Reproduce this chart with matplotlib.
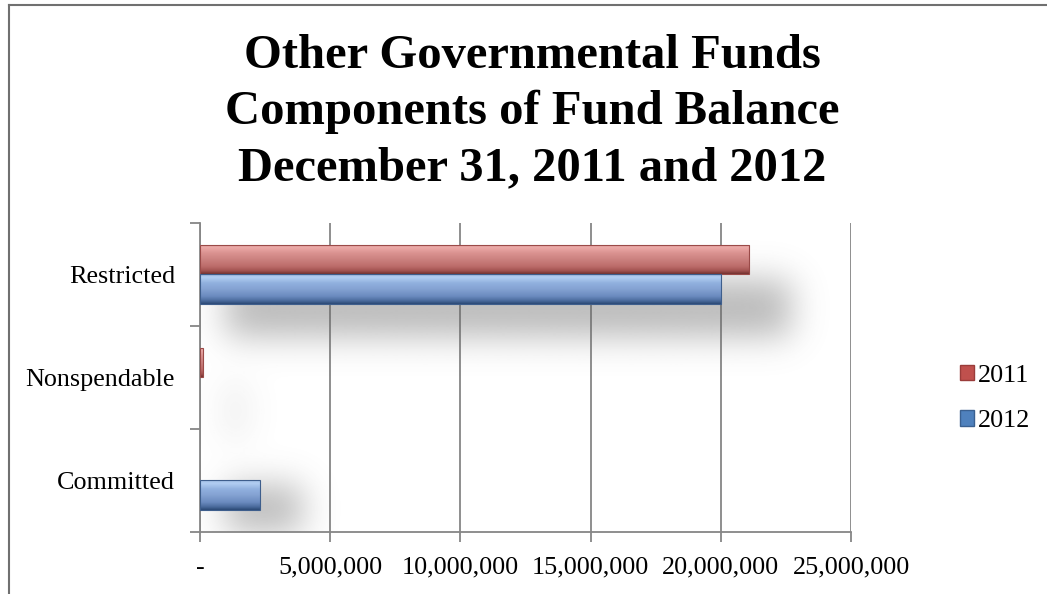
#!/usr/bin/env python3
"""Other governmental funds: components of fund balance, 2011 vs 2012."""

import matplotlib.pyplot as plt
import numpy as np
from matplotlib.colors import LinearSegmentedColormap
from matplotlib.lines import Line2D
from matplotlib.patches import Patch
from matplotlib.ticker import FuncFormatter

CATEGORIES = ["Committed", "Nonspendable", "Restricted"]
FUND_2011 = [0, 100_000, 21_100_000]
FUND_2012 = [2_300_000, 0, 20_000_000]
YEARS = ["2011", "2012"]
X_TICKS = [0, 5_000_000, 10_000_000, 15_000_000, 20_000_000, 25_000_000]
TITLE_LINES = [
    "Other Governmental Funds",
    "Components of Fund Balance",
    "December 31, 2011 and 2012",
]

SERIF = ["Liberation Serif", "DejaVu Serif"]
GRID = "#868686"

# glossy top-to-bottom shading for each series
RED_STOPS = ["#D89896", "#ECAAA8", "#DA9290", "#CC8280", "#BC6C6A", "#A25250", "#743230"]
BLUE_STOPS = ["#9CBAE2", "#B2CEF2", "#90B0DE", "#84A2D2", "#6A8ABE", "#4A6A9C", "#2C4A76"]
STOP_POS = [0.0, 0.1, 0.3, 0.5, 0.75, 0.9, 1.0]


def _gradient_bars(ax, bars, stops, edge):
    cmap = LinearSegmentedColormap.from_list("gloss", list(zip(STOP_POS, stops)))
    grad = np.linspace(0, 1, 64).reshape(-1, 1)
    for patch in bars:
        x, y = patch.get_x(), patch.get_y()
        w, h = patch.get_width(), patch.get_height()
        if w <= 0:
            patch.set_visible(False)
            continue
        patch.set_facecolor("none")
        patch.set_edgecolor(edge)
        patch.set_linewidth(0.8)
        patch.set_zorder(4)
        im = ax.imshow(grad, cmap=cmap, extent=(x, x + w, y, y + h),
                       origin="upper", aspect="auto", zorder=3,
                       interpolation="bilinear")
        im.set_clip_path(patch)


def _blur(img, sigma):
    r = int(3 * sigma)
    k = np.exp(-0.5 * (np.arange(-r, r + 1) / sigma) ** 2)
    k /= k.sum()
    img = np.apply_along_axis(lambda v: np.convolve(v, k, mode="same"), 0, img)
    img = np.apply_along_axis(lambda v: np.convolve(v, k, mode="same"), 1, img)
    return img


def _shadows(ax, centers, tops, xmax):
    nx, ny = 650, 310
    xs = np.linspace(0, xmax, nx)
    ys = np.linspace(2.5, -0.5, ny)
    X, Y = np.meshgrid(xs, ys)
    img = np.zeros((ny, nx))
    for c, v in zip(centers, tops):
        strength = 0.3 + 0.7 * min(1.0, v / 2e6)
        box = (X > 1.0e6) & (X < v + 1.6e6) & (Y < c - 0.05) & (Y > c - 0.6)
        img = np.maximum(img, box * strength)
    img = _blur(img, 17)
    rgba = np.zeros((ny, nx, 4))
    rgba[..., :3] = 0.40
    rgba[..., 3] = np.clip(img, 0, 1) * 0.45
    ax.imshow(rgba, extent=(0, xmax, -0.5, 2.5), origin="upper",
              aspect="auto", zorder=1.5, interpolation="bilinear")


def main():
    fig = plt.figure(figsize=(10.47, 5.94), dpi=100)
    ax = fig.add_axes([200 / 1047, 62.3 / 594, 651 / 1047, 309 / 594])

    y = np.arange(len(CATEGORIES))
    h = 0.287
    xmax = X_TICKS[-1]

    _shadows(ax, y, np.maximum(FUND_2011, FUND_2012), xmax)

    b11 = ax.barh(y + h / 2, FUND_2011, height=h)
    b12 = ax.barh(y - h / 2, FUND_2012, height=h)
    _gradient_bars(ax, b11, RED_STOPS, "#9A4A48")
    _gradient_bars(ax, b12, BLUE_STOPS, "#3E5E8C")

    ax.set_xlim(0, xmax)
    ax.set_ylim(-0.5, 2.5)

    ax.set_xticks(X_TICKS)
    ax.xaxis.set_major_formatter(
        FuncFormatter(lambda v, _: "-" if v == 0 else f"{v:,.0f}"))
    ax.set_yticks([-0.5, 0.5, 1.5, 2.5])
    ax.set_yticklabels([])
    ax.set_yticks(y, minor=True)
    ax.set_yticklabels(CATEGORIES, minor=True)

    ax.grid(axis="x", color=GRID, linewidth=1.3)
    ax.set_axisbelow(True)
    for side in ("top", "right"):
        ax.spines[side].set_visible(False)
    for side in ("left", "bottom"):
        ax.spines[side].set_color(GRID)
        ax.spines[side].set_linewidth(1.3)

    ax.tick_params(axis="both", which="major", length=7, width=1.3, color=GRID)
    ax.tick_params(axis="x", labelsize=18.8, pad=11)
    ax.tick_params(axis="y", which="minor", length=0, labelsize=18.8, pad=18)
    for lab in ax.get_xticklabels() + ax.get_yticklabels(minor=True):
        lab.set_family(SERIF)

    for i, line in enumerate(TITLE_LINES):
        fig.text(532 / 1047, 1 - (68 + 56 * i) / 594, line, ha="center",
                 va="baseline", fontsize=35, fontweight="bold", family=SERIF)

    handles = [
        Patch(facecolor="#C0504D", edgecolor="#9A3C3A", label=YEARS[0]),
        Patch(facecolor="#4F81BD", edgecolor="#3A6090", label=YEARS[1]),
    ]
    fig.legend(handles=handles, loc="center left",
               bbox_to_anchor=(947 / 1047, 1 - 398.5 / 594),
               frameon=False, borderpad=0, handlelength=0.55,
               handleheight=0.55, handletextpad=0.12, labelspacing=0.9,
               prop={"family": SERIF, "size": 18.8})

    # outer chart frame (runs off the right and bottom edges)
    fx, fy = 8.5 / 1047, 1 - 4.5 / 594
    fig.add_artist(Line2D([fx, fx], [0, fy], transform=fig.transFigure,
                          color="#707070", linewidth=1.5))
    fig.add_artist(Line2D([fx, 1], [fy, fy], transform=fig.transFigure,
                          color="#707070", linewidth=1.5))

    fig.savefig("out.png", dpi=100)
    plt.close(fig)


if __name__ == "__main__":
    main()
